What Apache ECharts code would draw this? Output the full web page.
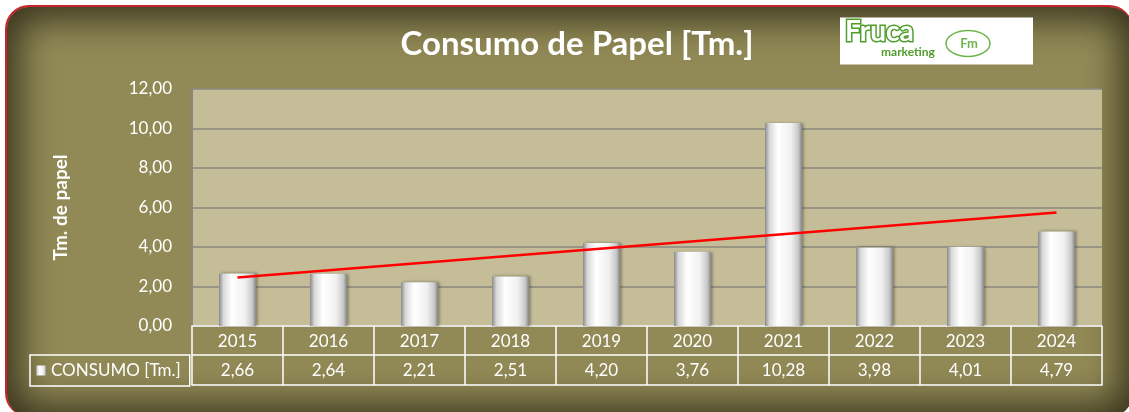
<!DOCTYPE html>
<html>
<head>
<meta charset="utf-8">
<script src="https://cdn.jsdelivr.net/npm/echarts@6/dist/echarts.min.js"></script>
<style>
  html, body { margin: 0; padding: 0; background: #ffffff; overflow: hidden; }
  #frame {
    position: absolute; left: 5px; top: 5px; width: 1128px; height: 412px;
    box-sizing: border-box;
    border-top: 2px solid #c9232c; border-left: 2px solid #c9232c;
    border-right: 0; border-bottom: 0;
    border-radius: 24px;
    background: #928a56;
    box-shadow: inset 0 0 36px 12px rgba(45, 41, 22, 0.9);
  }
  #chart { position: absolute; left: 0; top: 0; width: 1129px; height: 412px; }
</style>
</head>
<body>
<div id="frame"></div>
<div id="chart"></div>
<script>
// datos del gráfico
const years = ['2015', '2016', '2017', '2018', '2019', '2020', '2021', '2022', '2023', '2024'];
const consumo = [2.66, 2.64, 2.21, 2.51, 4.20, 3.76, 10.28, 3.98, 4.01, 4.79];
// línea de tendencia: extremos (2015 y 2024)
const trendEnds = [2.46, 5.75];
const yTicks = { min: 0, max: 12, interval: 2 };

const fmt = v => v.toFixed(2).replace('.', ',');
const font = 'Lato, "Open Sans", sans-serif';

const barFill = new echarts.graphic.LinearGradient(0, 0, 1, 0, [
  { offset: 0, color: '#8a8a8a' },
  { offset: 0.12, color: '#d8d8d8' },
  { offset: 0.35, color: '#ffffff' },
  { offset: 0.7, color: '#f0f0f0' },
  { offset: 0.9, color: '#c8c8c8' },
  { offset: 1, color: '#858585' }
]);

const chart = echarts.init(document.getElementById('chart'), null, { renderer: 'canvas' });

chart.setOption({
  backgroundColor: 'transparent',
  animation: false,
  title: {
    text: 'Consumo de Papel [Tm.]',
    left: 572, top: 23, textAlign: 'center',
    textStyle: { color: '#ffffff', fontFamily: font, fontWeight: 'bold', fontSize: 33 }
  },
  legend: {
    data: ['CONSUMO [Tm.]'],
    left: 30, top: 355,
    padding: [7, 9, 7, 6],
    borderColor: '#ffffff', borderWidth: 1.5, borderRadius: 0,
    itemWidth: 10, itemHeight: 10, itemGap: 4,
    icon: 'rect',
    textStyle: { color: '#ffffff', fontFamily: font, fontSize: 17, lineHeight: 16 }
  },
  grid: {
    left: 192, right: 27, top: 89, bottom: 86,
    show: true, backgroundColor: '#c5bd98', borderWidth: 0
  },
  xAxis: [
    {
      type: 'category', data: years, position: 'bottom',
      axisLine: { lineStyle: { color: '#ffffff', width: 1.5 } },
      axisTick: { show: true, length: 59, interval: 0, lineStyle: { color: '#ffffff', width: 1.5 } },
      axisLabel: { color: '#ffffff', fontFamily: font, fontSize: 17, margin: 7, interval: 0 }
    },
    {
      type: 'category', data: consumo.map(fmt), position: 'bottom', offset: 29,
      axisLine: { lineStyle: { color: '#ffffff', width: 1.5 } },
      axisTick: { show: false },
      axisLabel: { color: '#ffffff', fontFamily: font, fontSize: 17, margin: 7, interval: 0 }
    },
    {
      type: 'category', data: years, position: 'bottom', offset: 59,
      axisLine: { lineStyle: { color: '#ffffff', width: 1.5 } },
      axisTick: { show: false },
      axisLabel: { show: false }
    }
  ],
  yAxis: {
    type: 'value', min: yTicks.min, max: yTicks.max, interval: yTicks.interval,
    name: 'Tm. de papel', nameLocation: 'middle', nameGap: 122,
    nameTextStyle: { color: '#ffffff', fontFamily: font, fontWeight: 'bold', fontSize: 19 },
    axisLine: { show: true, lineStyle: { color: '#8a887e', width: 2 } },
    axisTick: { show: false },
    axisLabel: { color: '#ffffff', fontFamily: font, fontSize: 17, margin: 20, formatter: fmt },
    splitLine: { lineStyle: { color: '#8a887e', width: 1.5 } }
  },
  series: [
    {
      name: 'CONSUMO [Tm.]', type: 'bar', data: consumo, barWidth: 37,
      itemStyle: {
        color: barFill,
        shadowColor: 'rgba(40, 38, 25, 0.45)', shadowBlur: 3, shadowOffsetX: 1.5, shadowOffsetY: 0
      }
    },
    {
      name: 'Tendencia', type: 'line', symbol: 'none',
      data: [[years[0], trendEnds[0]], [years[years.length - 1], trendEnds[1]]],
      lineStyle: { color: '#ff0000', width: 2.5 },
      z: 5
    }
  ],
  graphic: [
    {
      type: 'group', left: 840, top: 16,
      children: [
        { type: 'rect', shape: { x: 0, y: 0, width: 193, height: 47 }, style: { fill: '#ffffff' } },
        {
          type: 'text', x: 5, y: 0,
          style: { text: 'Fruca', fill: '#ffffff', stroke: '#4f9e2c', lineWidth: 3, font: 'bold 28px ' + font }
        },
        {
          type: 'text', x: 41, y: 29,
          style: { text: 'marketing', fill: '#4f9e2c', font: 'bold 12px ' + font }
        },
        {
          type: 'ellipse', shape: { cx: 128, cy: 26, rx: 22, ry: 13 },
          style: { fill: 'none', stroke: '#6fb44c', lineWidth: 1.5 }
        },
        {
          type: 'text', x: 129, y: 26,
          style: { text: 'Fm', fill: '#6fb44c', font: 'bold 13px ' + font, align: 'center', verticalAlign: 'middle' }
        }
      ]
    }
  ]
});
</script>
</body>
</html>
